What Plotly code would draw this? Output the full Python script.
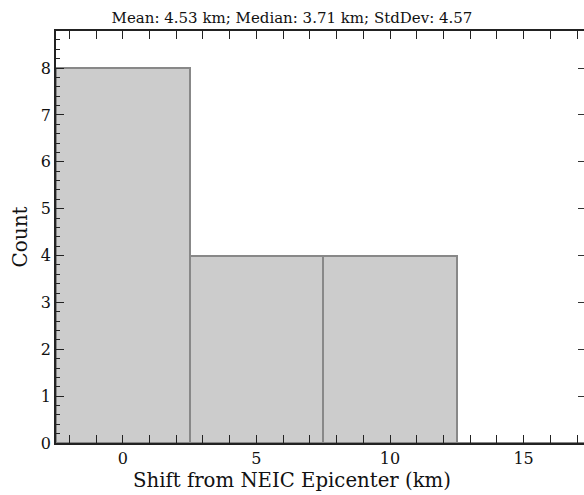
import plotly.graph_objects as go

bin_centers = [0, 5, 10, 15]
bin_width = [5, 5, 5, 5]
counts = [8, 4, 4, 0]
title_text = "Mean: 4.53 km; Median: 3.71 km; StdDev: 4.57"
x_title = "Shift from NEIC Epicenter (km)"
y_title = "Count"

FONT = "DejaVu Serif"
L, R, T, B = 56, 0, 31, 52
W, H = 584, 495
PW, PH = W - L - R, H - T - B

fig = go.Figure()
fig.add_trace(go.Bar(
    x=bin_centers, y=counts, width=bin_width,
    marker=dict(color="#cccccc", line=dict(color="#888888", width=2)),
))
# invisible trace on right axis so its ticks show
fig.add_trace(go.Scatter(x=[bin_centers[0]], y=[counts[0]], yaxis="y2",
                         mode="markers", marker=dict(opacity=0), hoverinfo="skip"))

tick_style = dict(ticks="inside", ticklen=8, tickwidth=1.2, tickcolor="#222222",
                  showgrid=False, zeroline=False,
                  tickfont=dict(family=FONT, size=16, color="#111111"))

fig.update_layout(
    width=W, height=H,
    margin=dict(l=L, r=R, t=T, b=B),
    plot_bgcolor="white", paper_bgcolor="white",
    bargap=0, showlegend=False,
    title=dict(text=title_text, xref="container", x=0.5, xanchor="center",
               y=1 - 18 / H, yanchor="middle",
               font=dict(family=FONT, size=15, color="#111111")),
    xaxis=dict(range=[-2.5, 17.26], tickvals=[0, 5, 10, 15],
               showline=True, linecolor="#222222", linewidth=1.5, mirror="allticks",
               minor=dict(dtick=1, tick0=0, ticks="inside", ticklen=4, tickcolor="#222222"),
               **tick_style),
    yaxis=dict(range=[0, 8.79], dtick=1, tick0=0,
               showline=True, linecolor="#222222", linewidth=1.5, mirror=False,
               title=dict(text=y_title, font=dict(family=FONT, size=20, color="#111111"), standoff=8),
               minor=dict(dtick=0.2, tick0=0, ticks="inside", ticklen=4, tickcolor="#222222"),
               **tick_style),
    yaxis2=dict(overlaying="y", side="right", range=[0, 8.79], dtick=1, tick0=0,
                showline=False, showticklabels=False,
                ticks="inside", ticklen=6, tickwidth=1.2, tickcolor="#333333",
                showgrid=False, zeroline=False),
)
fig.add_annotation(text=x_title, xref="paper", yref="paper",
                   x=(292 - L) / PW, y=(H - B - 480) / PH, xanchor="center", yanchor="middle",
                   showarrow=False, font=dict(family=FONT, size=19.7, color="#111111"))

fig.write_html("out.html")
